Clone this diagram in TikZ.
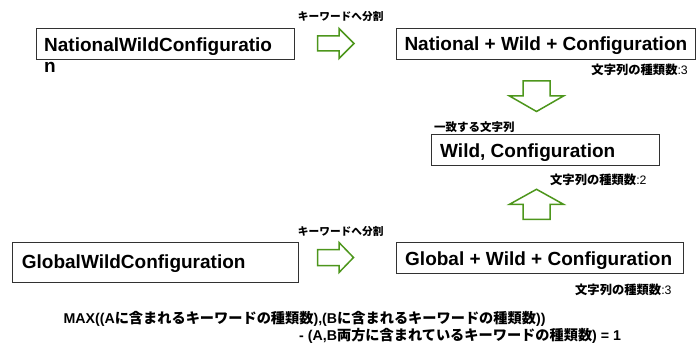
\documentclass[tikz,border=0pt]{standalone}
\usepackage{fontspec}
\setmainfont{Liberation Sans}
\newfontfamily\cjk{Noto Sans CJK JP}
\definecolor{arrowgreen}{RGB}{77,150,28}
\definecolor{boxline}{RGB}{50,50,50}
\newcommand{\J}[1]{{\cjk #1}}
\begin{document}
\begin{tikzpicture}[x=1pt,y=-1pt,
  box/.style={draw=boxline, line width=0.9pt, inner sep=0pt, fill=none},
  big/.style={font=\bfseries\fontsize{19}{21.3}\selectfont, inner sep=0pt, anchor=base west},
  lbl/.style={font=\bfseries\fontsize{11.5}{13}\selectfont, inner sep=0pt},
  kwlbl/.style={font=\bfseries\fontsize{10.7}{12}\selectfont, inner sep=0pt},
  cntlbl/.style={font=\bfseries\fontsize{12.3}{14}\selectfont, inner sep=0pt},
  formula/.style={font=\bfseries\fontsize{14.2}{16}\selectfont, inner sep=0pt, anchor=base west},
  blockarrow/.style={draw=arrowgreen, line width=1.5pt, fill=white, line join=miter}]
\useasboundingbox (0,0) rectangle (700,347);

% boxes
\node[box, minimum width=258.3pt, minimum height=30.7pt] (b1) at (165.15,43.65) {};
\node[box, minimum width=299pt, minimum height=30.7pt] (b2) at (545.5,43.65) {};
\node[box, minimum width=227.6pt, minimum height=30.7pt] (b3) at (545.5,149.65) {};
\node[box, minimum width=286pt, minimum height=40.4pt] (b4) at (155.3,262.5) {};
\node[box, minimum width=287.3pt, minimum height=30.6pt] (b5) at (539.65,258) {};

% box texts
\node[big] (t1a) at (44,51.7) {NationalWildConfiguratio};
\node[big] (t1b) at (44,73) {n};
\node[big] (t2) at (404.3,51) {National + Wild + Configuration};
\node[big] (t3) at (440,157.3) {Wild, Configuration};
\node[big] (t4) at (21.7,268.3) {GlobalWildConfiguration};
\node[big] (t5) at (405,265) {Global + Wild + Configuration};

% labels
\node[kwlbl, anchor=base west] (k1) at (297.7,20.8) {\J{キーワードへ分割}};
\node[kwlbl, anchor=base west] (k2) at (297.7,235.8) {\J{キーワードへ分割}};
\node[cntlbl, anchor=base east] (c1) at (688,74.7) {\J{文字列の種類数}{\mdseries:3}};
\node[cntlbl, anchor=base east] (c2) at (646.7,184.7) {\J{文字列の種類数}{\mdseries:2}};
\node[cntlbl, anchor=base east] (c3) at (671.7,294) {\J{文字列の種類数}{\mdseries:3}};
\node[lbl, anchor=base west] (m1) at (434,131.7) {\J{一致する文字列}};

% block arrows
\draw[blockarrow] (317.5,36)--(339,36)--(339,28.5)--(354,43.5)--(339,58.5)--(339,51)--(317.5,51)--cycle;
\draw[blockarrow] (317.5,249.5)--(339,249.5)--(339,242.5)--(353.5,257.5)--(339,272.5)--(339,265.5)--(317.5,265.5)--cycle;
\draw[blockarrow] (523,81)--(550,81)--(550,96)--(563.5,96)--(536.5,111.5)--(509.5,96)--(523,96)--cycle;
\draw[blockarrow] (523,219.3)--(550,219.3)--(550,204.3)--(563.5,204.3)--(536.5,189.3)--(509.5,204.3)--(523,204.3)--cycle;

% formula
\node[formula] (f1) at (63.3,323.7) {MAX((A\J{に含まれるキーワードの種類数}),(B\J{に含まれるキーワードの種類数}))};
\node[formula] (f2) at (299,340.4) {- (A,B\J{両方に含まれているキーワードの種類数}) = 1};
\end{tikzpicture}
\end{document}
